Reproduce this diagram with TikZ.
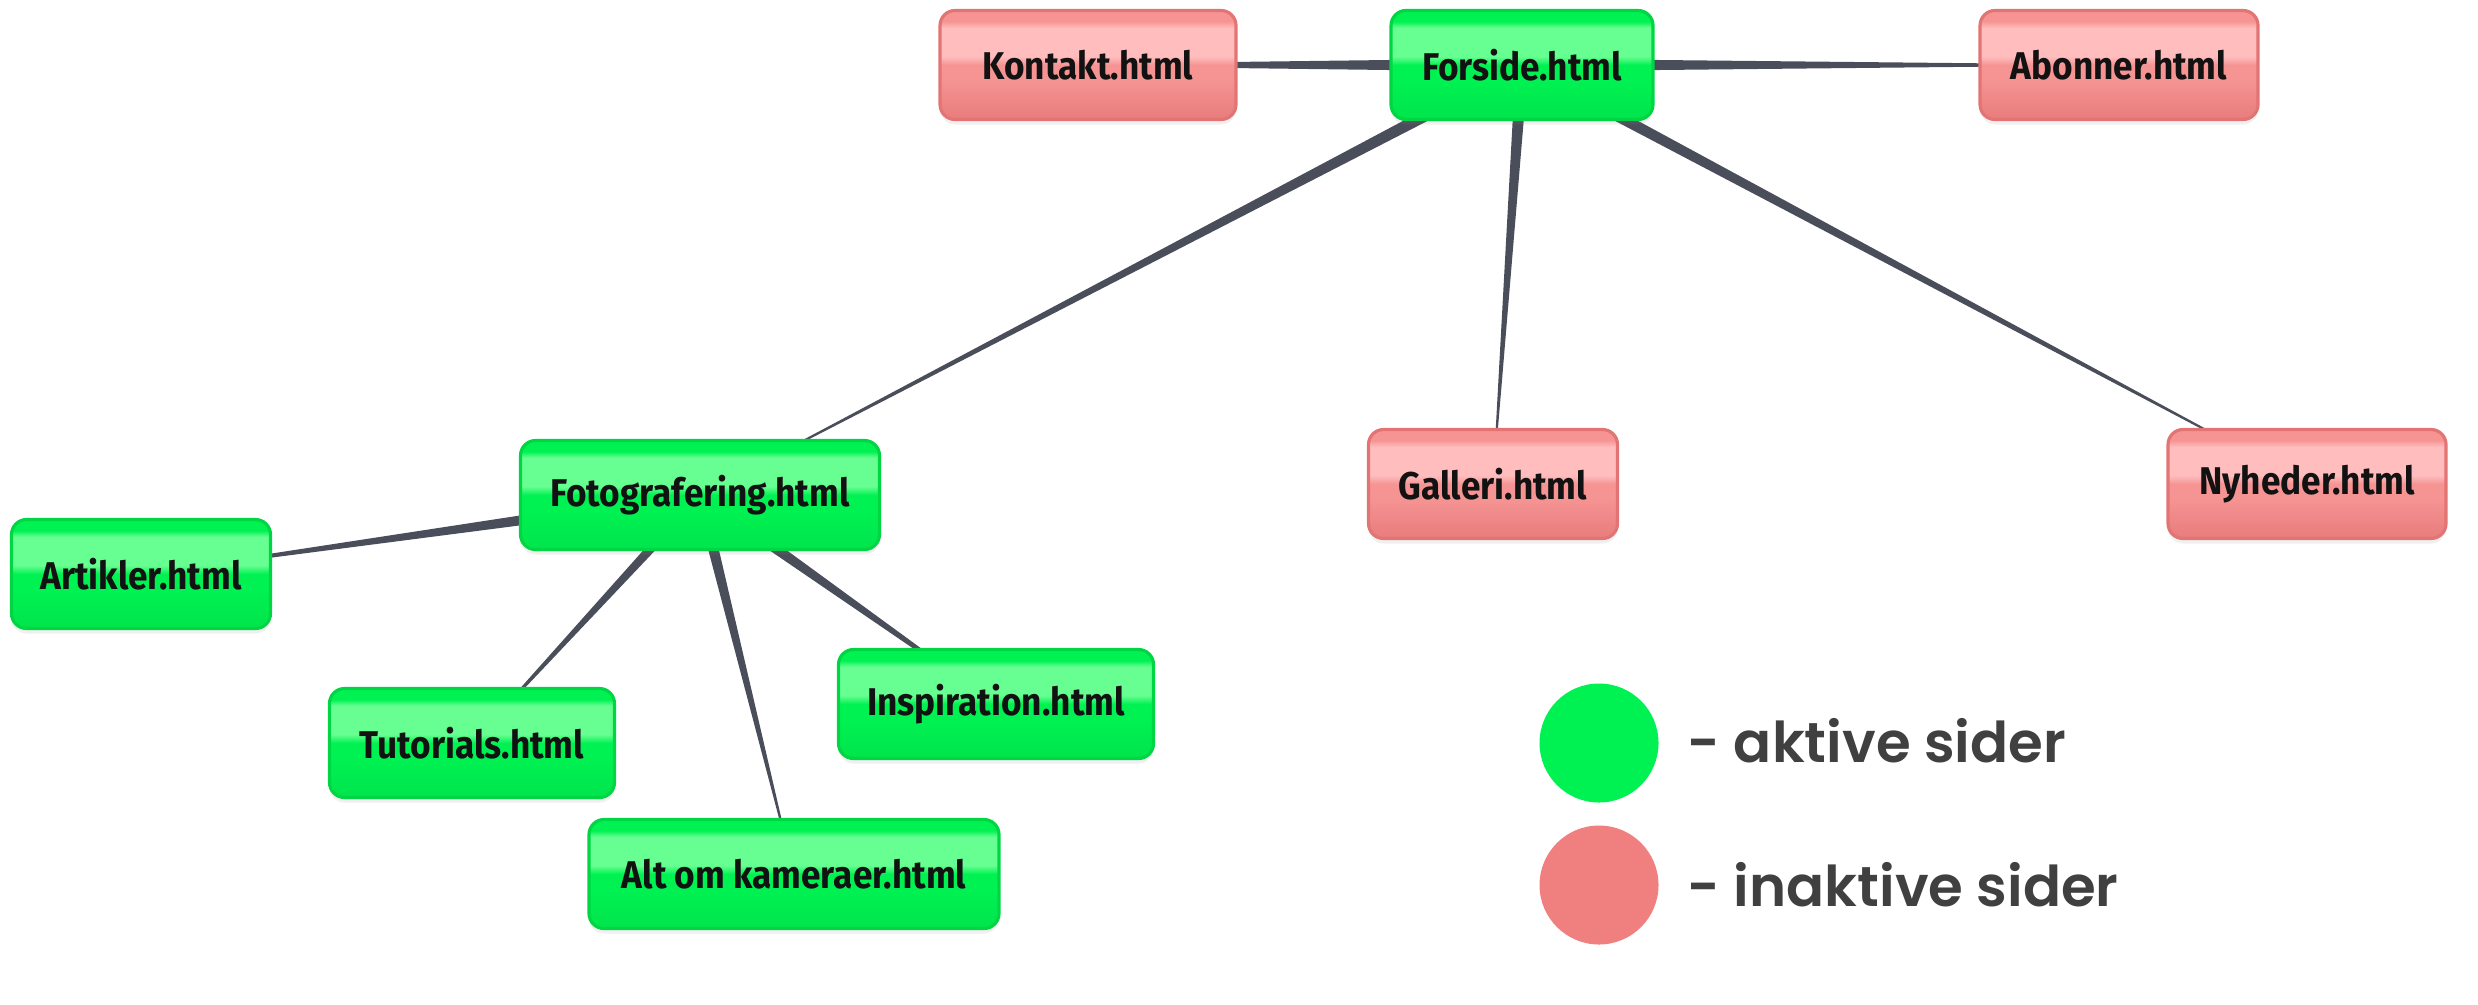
\documentclass[tikz,border=0pt]{standalone}
\usepackage{fontspec}
\usepackage{xcolor}
\usepackage{tikz}
\usetikzlibrary{calc,backgrounds,shadows}
\newfontfamily\pagefont{Fira Sans}[FakeStretch=0.91]
\newfontfamily\legendfont{Poppins}[BoldFont={Poppins SemiBold}]
\definecolor{wiregray}{RGB}{74,78,90}
\definecolor{actlight}{RGB}{104,255,146}
\definecolor{actbase}{RGB}{0,242,82}
\definecolor{actdark}{RGB}{0,228,76}
\definecolor{actborder}{RGB}{0,214,68}
\definecolor{inlight}{RGB}{255,189,189}
\definecolor{inbase}{RGB}{246,148,148}
\definecolor{indark}{RGB}{232,124,124}
\definecolor{inborder}{RGB}{226,116,116}
\definecolor{legendtext}{RGB}{64,64,64}
\definecolor{dotactive}{RGB}{0,242,82}
\definecolor{dotinactive}{RGB}{240,128,128}
\pgfdeclareverticalshading{activegloss}{100bp}{color(0bp)=(actdark);
  color(25bp)=(actdark); color(44bp)=(actbase); color(50bp)=(actbase);
  color(54bp)=(actlight); color(67bp)=(actlight); color(70bp)=(actbase);
  color(100bp)=(actbase)}
\pgfdeclareverticalshading{inactivegloss}{100bp}{color(0bp)=(indark);
  color(25bp)=(indark); color(44bp)=(inbase); color(50bp)=(inbase);
  color(54bp)=(inlight); color(67bp)=(inlight); color(70bp)=(inbase);
  color(100bp)=(inbase)}
\newcommand{\taper}[4]{%
  \fill[wire] ($(#1.center)!#3!90:(#2.center)$) --
    ($(#2.center)!#4!-90:(#1.center)$) -- ($(#2.center)!#4!90:(#1.center)$) --
    ($(#1.center)!#3!-90:(#2.center)$) -- cycle;}
\tikzset{
  page/.style={rectangle,rounded corners=1.5mm,line width=0.9pt,
    minimum height=1.09cm,inner sep=0pt,text=black!93,
    font=\pagefont\bfseries\fontsize{11}{13}\selectfont,
    drop shadow={shadow xshift=0pt,shadow yshift=-0.5mm,opacity=.12}},
  active/.style={page,draw=actborder,shade,shading=activegloss},
  inactive/.style={page,draw=inborder,shade,shading=inactivegloss},
  wire/.style={fill=wiregray}}

\begin{document}
\begin{tikzpicture}[
  legenddot/.style={circle,minimum size=1.19cm,inner sep=0pt},
  legendlabel/.style={anchor=base west,inner sep=0pt,text=legendtext,
    font=\legendfont\bfseries\fontsize{16}{19}\selectfont}]
  \useasboundingbox (0,0) rectangle (24.78,-10.04);

  \node[inactive,minimum width=2.96cm] (kontakt) at (10.88,-0.65) {Kontakt.html};
  \node[active,minimum width=2.62cm] (forside) at (15.22,-0.65) {Forside.html};
  \node[inactive,minimum width=2.78cm] (abonner) at (21.19,-0.65) {Abonner.html};
  \node[active,minimum width=3.59cm] (foto) at (7.00,-4.95) {Fotografering.html};
  \node[inactive,minimum width=2.49cm] (galleri) at (14.93,-4.84) {Galleri.html};
  \node[inactive,minimum width=2.78cm] (nyheder) at (23.07,-4.84) {Nyheder.html};
  \node[active,minimum width=2.59cm] (artikler) at (1.41,-5.74) {Artikler.html};
  \node[active,minimum width=2.85cm] (tutorials) at (4.72,-7.43) {Tutorials.html};
  \node[active,minimum width=3.15cm] (inspiration) at (9.96,-7.04)
    {Inspiration.html};
  \node[active,minimum width=4.10cm] (kameraer) at (7.94,-8.74)
    {Alt om kameraer.html};

  \begin{scope}[on background layer]
  \taper{forside}{kontakt}{0.67mm}{0.12mm}
  \taper{forside}{abonner}{0.64mm}{0.03mm}
  \taper{forside}{foto}{0.65mm}{0.03mm}
  \taper{forside}{galleri}{0.63mm}{0.03mm}
  \taper{forside}{nyheder}{0.62mm}{0.03mm}
  \taper{foto}{artikler}{0.70mm}{0.05mm}
  \taper{foto}{tutorials}{0.55mm}{0.05mm}
  \taper{foto}{kameraer}{0.60mm}{0.03mm}
  \taper{foto}{inspiration}{0.65mm}{0.08mm}
  \end{scope}

  % legend
  \node[legenddot,fill=dotactive] (dotact) at (15.99,-7.43) {};
  \node[legenddot,fill=dotinactive] (dotinact) at (15.99,-8.85) {};
  \node[legendlabel] (labact) at (16.87,-7.62) {- aktive sider};
  \node[legendlabel] (labinact) at (16.87,-9.06) {- inaktive sider};
\end{tikzpicture}
\end{document}
